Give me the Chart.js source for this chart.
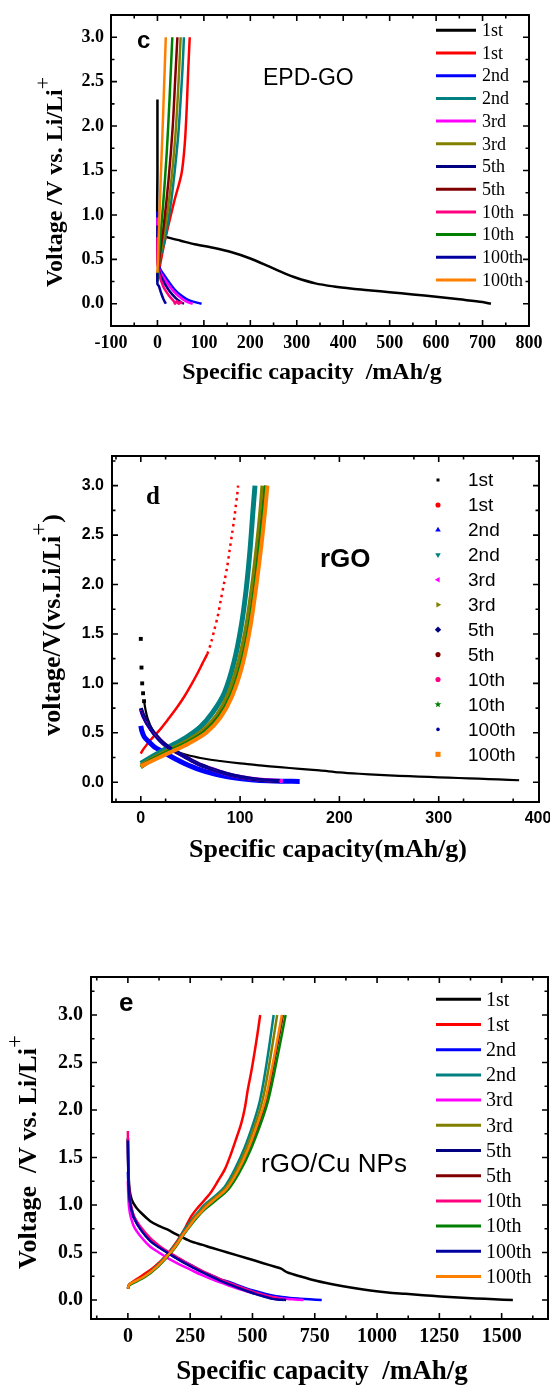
<!DOCTYPE html>
<html>
<head>
<meta charset="utf-8">
<script src="https://cdn.jsdelivr.net/npm/chart.js@4.4.0/dist/chart.umd.min.js"></script>
<style>
html, body { margin: 0; padding: 0; background: #fff; }
body { width: 550px; height: 1390px; position: relative; overflow: hidden; }
canvas { position: absolute; left: 0; }
</style>
</head>
<body>
<canvas id="chartC" width="550" height="420" style="top:0px;width:550px;height:420px"></canvas>
<canvas id="chartD" width="550" height="460" style="top:420px;width:550px;height:460px"></canvas>
<canvas id="chartE" width="550" height="510" style="top:880px;width:550px;height:510px"></canvas>
<script>
// legend labels, same for the three panels (discharge / charge pairs)
const cycleLabels = ['1st', '1st', '2nd', '2nd', '3rd', '3rd', '5th', '5th', '10th', '10th', '100th', '100th'];
const cycleColors = ['#000000', '#FF0000', '#0000FF', '#008080', '#FF00FF', '#808000', '#000080', '#800000', '#FF0080', '#008000', '#0000A0', '#FF8000'];

// ---- panel c : EPD-GO  [capacity mAh/g, voltage V]
const cDis1 = [[0,2.3],[0,1.5],[0,0.88],[5,0.79],[20,0.75],[50,0.71],[80,0.67],[120,0.63],[160,0.58],[200,0.51],[240,0.42],[270,0.35],[300,0.29],[340,0.23],[380,0.195],[420,0.17],[460,0.15],[500,0.13],[550,0.105],[600,0.08],[650,0.05],[700,0.02],[718,0.0]];
const cChg1 = [[0,0.28],[2,0.35],[5,0.42],[12,0.61],[23,0.87],[37,1.17],[52,1.47],[59,1.81],[63,2.2],[66,2.6],[69.5,3.0]];
const cDis2 = [[0,1.04],[0,0.7],[1,0.47],[5,0.4],[16,0.31],[37,0.16],[55,0.08],[70,0.035],[95,0.0]];
const cChg2 = [[0,0.3],[5,0.5],[16,0.72],[30,1.17],[44,1.85],[50,2.3],[54,2.65],[57,3.0]];
const cDis3 = [[0,0.97],[0,0.6],[1,0.44],[6,0.36],[16,0.27],[35,0.14],[52,0.06],[65,0.02],[76,0.0]];
const cChg3 = [[0,0.3],[5,0.52],[15,0.8],[27,1.25],[38,1.85],[44,2.35],[50,3.0]];
const cDis5 = [[0,0.88],[0,0.55],[2,0.4],[10,0.28],[25,0.15],[40,0.06],[50,0.02],[57,0.0]];
const cChg5 = [[0,0.3],[5,0.55],[14,0.9],[24,1.4],[33,2.0],[38,2.5],[43,3.0]];
const cDis10 = [[0,0.75],[0,0.5],[3,0.35],[12,0.2],[25,0.09],[35,0.03],[38,0.0],[42,0.03],[46,0.0],[50,0.02],[53,0.0]];
const cChg10 = [[0,0.25],[4,0.6],[12,1.1],[20,1.7],[26,2.3],[32,3.0]];
const cDis100 = [[0,0.35],[0,0.22],[3,0.2],[8,0.12],[13,0.05],[18,0.0]];
const cChg100 = [[0,0.35],[3,0.8],[7,1.4],[11,1.95],[14,2.4],[18,3.0]];
const cXTicks = [-100, 0, 100, 200, 300, 400, 500, 600, 700, 800];
const cYTicks = [0, 0.5, 1, 1.5, 2, 2.5, 3];

// ---- panel d : rGO
const dDis1 = [[0,1.45],[0.7,1.16],[1.4,1.0],[2.3,0.9],[3.3,0.82],[5,0.72],[7,0.64],[12,0.52],[17,0.44],[25,0.36],[35,0.31],[45,0.28],[60,0.245],[80,0.215],[100,0.19],[120,0.17],[140,0.152],[160,0.136],[180,0.12],[200,0.1],[220,0.086],[240,0.075],[260,0.065],[280,0.057],[300,0.05],[320,0.043],[340,0.036],[360,0.028],[381,0.02]];
const dChg1 = [[0,0.29],[3,0.34],[10,0.43],[20,0.54],[27,0.63],[36,0.75],[44,0.87],[51,0.99],[57,1.1],[62,1.2],[67,1.3],[71,1.42],[74,1.54],[77.5,1.68],[80.5,1.84],[84,2.02],[87,2.18],[89.5,2.35],[92,2.52],[94,2.66],[95.6,2.79],[97,2.9],[98,3.0]];
const dDis2 = [[0,0.57],[1,0.52],[3.4,0.46],[8,0.41],[13.4,0.36],[20,0.32],[27,0.28],[35,0.235],[44,0.19],[52,0.155],[60,0.125],[70,0.095],[80,0.07],[94,0.045],[111,0.026],[128,0.014],[145,0.01],[160,0.008]];
const dChg2 = [[0,0.19],[10,0.25],[27,0.35],[45,0.45],[60,0.56],[72,0.7],[84,0.9],[94,1.22],[101,1.57],[106,1.94],[110,2.35],[113,2.75],[115,3.0]];
const dDis3 = [[0,0.74],[2,0.68],[5,0.62],[9,0.55],[13,0.5],[20,0.42],[27,0.36],[35,0.31],[44,0.26],[52,0.215],[60,0.175],[70,0.14],[80,0.105],[94,0.065],[111,0.035],[127,0.02],[143,0.012]];
const dChg3 = [[0,0.17],[10,0.23],[27,0.32],[45,0.41],[62,0.52],[76,0.67],[88,0.89],[98,1.2],[106,1.57],[112,1.98],[117,2.4],[120.5,2.75],[122.5,3.0]];
const dDis5 = [[0,0.75],[2,0.69],[5,0.63],[9,0.56],[13,0.5],[20,0.42],[27,0.36],[35,0.31],[44,0.26],[52,0.215],[60,0.175],[70,0.138],[80,0.105],[94,0.065],[111,0.035],[127,0.018],[140,0.012]];
const dChg5 = [[0,0.17],[10,0.23],[28,0.32],[47,0.41],[64,0.52],[78,0.67],[90,0.88],[100,1.18],[108,1.55],[114,1.96],[119,2.4],[123,2.78],[125,3.0]];
const dDis10 = [[0,0.73],[2,0.67],[5,0.61],[9,0.54],[13,0.49],[20,0.41],[27,0.355],[35,0.305],[44,0.255],[52,0.21],[60,0.17],[70,0.133],[80,0.1],[94,0.06],[111,0.032],[127,0.016],[141,0.01]];
const dChg10 = [[0,0.15],[10,0.22],[28,0.31],[47,0.4],[65,0.51],[79,0.66],[91,0.88],[101,1.18],[109,1.55],[115,1.96],[120,2.4],[124,2.78],[126,3.0]];
const dDis100 = [[0,0.72],[2,0.66],[5,0.6],[9,0.54],[13,0.48],[20,0.41],[27,0.355],[35,0.305],[44,0.255],[52,0.21],[60,0.17],[70,0.133],[80,0.1],[94,0.062],[111,0.034],[127,0.018],[139,0.012]];
const dChg100 = [[0,0.16],[10,0.21],[29,0.3],[48,0.39],[66,0.5],[80,0.65],[92,0.87],[102,1.17],[110,1.55],[116,1.96],[121.5,2.4],[125.5,2.78],[127.5,3.0]];
const dXTicks = [0, 100, 200, 300, 400];
const dYTicks = [0, 0.5, 1, 1.5, 2, 2.5, 3];

// ---- panel e : rGO/Cu NPs
const eDis1 = [[0,1.7],[2,1.4],[6,1.18],[15,1.06],[32,0.98],[60,0.9],[90,0.83],[124,0.78],[160,0.74],[195,0.69],[250,0.62],[300,0.58],[336,0.55],[400,0.5],[478,0.44],[540,0.39],[591,0.35],[615,0.33],[640,0.29],[690,0.25],[760,0.2],[831,0.16],[900,0.128],[973,0.1],[1043,0.08],[1114,0.065],[1185,0.05],[1255,0.038],[1326,0.027],[1397,0.017],[1470,0.008],[1545,0.0]];
const eChg1 = [[0,0.12],[5,0.16],[13,0.18],[53,0.25],[107,0.35],[160,0.49],[200,0.63],[230,0.76],[254,0.88],[280,0.97],[307,1.05],[335,1.14],[361,1.25],[390,1.38],[414,1.54],[435,1.7],[455,1.86],[470,2.03],[481,2.21],[495,2.4],[508,2.6],[520,2.8],[531,3.0]];
const eDis2 = [[0,1.35],[2,1.2],[5,1.08],[11,0.98],[25,0.86],[54,0.74],[90,0.63],[124,0.56],[160,0.5],[195,0.45],[230,0.4],[266,0.35],[300,0.3],[336,0.26],[370,0.22],[407,0.19],[440,0.155],[478,0.12],[510,0.095],[549,0.067],[585,0.045],[619,0.032],[650,0.022],[690,0.014],[730,0.007],[778,0.0]];
const eChg2 = [[0,0.12],[5,0.16],[15,0.18],[67,0.25],[120,0.37],[174,0.53],[200,0.62],[227,0.74],[250,0.82],[267,0.88],[287,0.94],[307,1.0],[348,1.09],[388,1.19],[428,1.37],[468,1.6],[506,1.88],[530,2.1],[548,2.35],[566,2.65],[585,3.0]];
const eDis3 = [[0,1.25],[2,1.08],[5,0.97],[11,0.88],[25,0.77],[54,0.66],[90,0.56],[124,0.5],[160,0.44],[195,0.39],[230,0.345],[266,0.3],[300,0.26],[336,0.22],[370,0.185],[407,0.15],[440,0.12],[478,0.09],[510,0.07],[549,0.045],[585,0.03],[620,0.015],[660,0.007],[705,0.0]];
const eChg3 = [[0,0.12],[5,0.16],[15,0.18],[67,0.25],[120,0.36],[174,0.52],[200,0.61],[227,0.72],[250,0.8],[267,0.87],[290,0.93],[310,0.99],[350,1.08],[392,1.18],[434,1.36],[476,1.6],[515,1.88],[540,2.1],[559,2.35],[578,2.65],[599,3.0]];
const eDis5 = [[0,1.7],[1,1.45],[3,1.25],[6,1.1],[11,1.0],[25,0.87],[54,0.74],[90,0.63],[124,0.56],[160,0.5],[195,0.44],[230,0.39],[266,0.34],[300,0.295],[336,0.25],[370,0.21],[407,0.17],[440,0.135],[478,0.1],[510,0.07],[549,0.04],[580,0.015],[600,0.01],[635,0.0]];
const eChg5 = [[0,0.12],[5,0.16],[15,0.18],[67,0.25],[120,0.36],[174,0.51],[200,0.6],[227,0.71],[250,0.79],[270,0.86],[292,0.92],[313,0.98],[354,1.07],[398,1.17],[442,1.35],[486,1.59],[528,1.88],[555,2.1],[576,2.36],[598,2.66],[622,3.0]];
const eDis10 = [[0,1.78],[1,1.5],[3,1.28],[6,1.12],[11,1.02],[25,0.88],[54,0.76],[90,0.65],[124,0.575],[160,0.51],[195,0.455],[230,0.4],[266,0.35],[300,0.305],[336,0.26],[370,0.22],[407,0.18],[440,0.145],[478,0.11],[510,0.08],[549,0.05],[580,0.03],[600,0.02],[625,0.0]];
const eChg10 = [[0,0.12],[5,0.15],[15,0.17],[67,0.24],[120,0.35],[174,0.5],[200,0.59],[227,0.7],[250,0.78],[272,0.85],[295,0.92],[316,0.97],[358,1.06],[402,1.16],[447,1.34],[492,1.58],[535,1.87],[563,2.1],[585,2.36],[608,2.66],[633,3.0]];
const eDis100 = [[0,1.68],[1,1.42],[3,1.23],[6,1.09],[11,0.99],[25,0.86],[54,0.73],[90,0.62],[124,0.555],[160,0.495],[195,0.44],[230,0.385],[266,0.335],[300,0.29],[336,0.245],[370,0.205],[407,0.165],[440,0.13],[478,0.095],[510,0.065],[549,0.035],[580,0.012],[600,0.005],[625,0.0]];
const eChg100 = [[0,0.12],[5,0.16],[15,0.18],[67,0.25],[120,0.36],[174,0.51],[200,0.6],[227,0.71],[250,0.79],[270,0.86],[292,0.92],[313,0.98],[353,1.07],[396,1.17],[440,1.35],[483,1.59],[524,1.88],[551,2.1],[572,2.36],[594,2.66],[618,3.0]];
const eXTicks = [0, 250, 500, 750, 1000, 1250, 1500];
const eYTicks = [0, 0.5, 1, 1.5, 2, 2.5, 3];

const cSeries = [cDis1, cChg1, cDis2, cChg2, cDis3, cChg3, cDis5, cChg5, cDis10, cChg10, cDis100, cChg100];
const dSeries = [dDis1, dChg1, dDis2, dChg2, dDis3, dChg3, dDis5, dChg5, dDis10, dChg10, dDis100, dChg100];
const eSeries = [eDis1, eChg1, eDis2, eChg2, eDis3, eChg3, eDis5, eChg5, eDis10, eChg10, eDis100, eChg100];

// marker shapes of the rGO legend (scatter symbols in the original)
const dMarkers = ['sq', 'circ', 'up', 'down', 'left', 'right', 'diamond', 'circ', 'circ', 'star', 'dot', 'square'];

const SERIF = '"Liberation Serif", "Times New Roman", serif';
const SANS = '"Liberation Sans", Arial, sans-serif';

function drawMarker(ctx, shape, x, y, r) {
    ctx.beginPath();
    if (shape === 'sq') { ctx.rect(x - 1.5, y - 1.5, 3, 3); }
    else if (shape === 'dot') { ctx.arc(x, y, 1.8, 0, Math.PI * 2); }
    else if (shape === 'circ') { ctx.arc(x, y, r * 0.8, 0, Math.PI * 2); }
    else if (shape === 'square') { ctx.rect(x - r * 0.8, y - r * 0.8, r * 1.6, r * 1.6); }
    else if (shape === 'diamond') { ctx.moveTo(x, y - r); ctx.lineTo(x + r, y); ctx.lineTo(x, y + r); ctx.lineTo(x - r, y); ctx.closePath(); }
    else if (shape === 'star') {
        for (let k = 0; k < 10; k++) {
            const rr = k % 2 ? r * 0.45 : r * 1.1;
            const a = -Math.PI / 2 + k * Math.PI / 5;
            if (k === 0) ctx.moveTo(x + rr * Math.cos(a), y + rr * Math.sin(a));
            else ctx.lineTo(x + rr * Math.cos(a), y + rr * Math.sin(a));
        }
        ctx.closePath();
    } else {
        const rot = { up: 0, right: Math.PI / 2, down: Math.PI, left: -Math.PI / 2 }[shape];
        for (let k = 0; k < 3; k++) {
            const a = rot - Math.PI / 2 + k * 2 * Math.PI / 3;
            if (k === 0) ctx.moveTo(x + r * Math.cos(a), y + r * Math.sin(a));
            else ctx.lineTo(x + r * Math.cos(a), y + r * Math.sin(a));
        }
        ctx.closePath();
    }
    ctx.fill();
}

const decorById = {};

const decorPlugin = {
    id: 'decor',
    afterDraw(chart) {
        const o = decorById[chart.canvas.id];
        const ctx = chart.ctx;
        const a = chart.chartArea;
        const xs = chart.scales.x, ys = chart.scales.y;
        ctx.save();
        // frame + inward ticks on all four sides
        ctx.strokeStyle = '#000';
        ctx.lineWidth = 2;
        ctx.strokeRect(a.left, a.top, a.right - a.left, a.bottom - a.top);
        ctx.lineWidth = 1.6;
        const tickX = (vals, len) => vals.forEach(v => {
            const px = xs.getPixelForValue(v);
            if (px <= a.left + 1 || px >= a.right - 1) return;
            ctx.beginPath();
            ctx.moveTo(px, a.bottom); ctx.lineTo(px, a.bottom - len);
            ctx.moveTo(px, a.top); ctx.lineTo(px, a.top + len);
            ctx.stroke();
        });
        const tickY = (vals, len) => vals.forEach(v => {
            const py = ys.getPixelForValue(v);
            if (py <= a.top + 1 || py >= a.bottom - 1) return;
            ctx.beginPath();
            ctx.moveTo(a.left, py); ctx.lineTo(a.left + len, py);
            ctx.moveTo(a.right, py); ctx.lineTo(a.right - len, py);
            ctx.stroke();
        });
        tickX(o.xMajor, 6); tickX(o.xMinor, 3.5);
        tickY(o.yMajor, 6); tickY(o.yMinor, 3.5);

        ctx.fillStyle = '#000';
        ctx.textAlign = 'left';
        ctx.textBaseline = 'alphabetic';
        o.texts.forEach(t => { ctx.font = t.font; ctx.fillText(t.t, t.x, t.y); });

        // x title
        ctx.font = o.xTitle.font;
        ctx.textAlign = 'center';
        ctx.textBaseline = 'middle';
        ctx.fillText(o.xTitle.t, o.xTitle.x, o.xTitle.y);

        // y title with superscript
        const yt = o.yTitle;
        ctx.save();
        ctx.translate(yt.x, yt.y);
        ctx.rotate(-Math.PI / 2);
        ctx.textAlign = 'left';
        ctx.textBaseline = 'middle';
        const mainFont = 'bold ' + yt.size + 'px ' + SERIF;
        const supFont = Math.round(yt.size * 0.9) + 'px ' + SERIF;
        ctx.font = mainFont; const w1 = ctx.measureText(yt.main).width;
        const w3 = yt.tail ? ctx.measureText(yt.tail).width : 0;
        ctx.font = supFont; const w2 = ctx.measureText(yt.sup).width;
        let x = -(w1 + w2 + w3) / 2;
        ctx.font = mainFont; ctx.fillText(yt.main, x, 0); x += w1;
        ctx.font = supFont; ctx.fillText(yt.sup, x, -yt.size * 0.5); x += w2;
        if (yt.tail) { ctx.font = mainFont; ctx.fillText(yt.tail, x, 0); }
        ctx.restore();

        // legend inside the plot
        const lg = o.legend;
        ctx.font = lg.font;
        ctx.textAlign = 'left';
        ctx.textBaseline = 'middle';
        chart.data.datasets.forEach((ds, i) => {
            const y = lg.y0 + lg.dy * i;
            ctx.fillStyle = ds.borderColor;
            ctx.strokeStyle = ds.borderColor;
            if (lg.markers) {
                drawMarker(ctx, lg.markers[i], lg.mx, y, 3.2);
            } else {
                ctx.lineWidth = 3;
                ctx.beginPath();
                ctx.moveTo(lg.x0, y); ctx.lineTo(lg.x1, y);
                ctx.stroke();
            }
            ctx.fillStyle = '#000';
            ctx.fillText(ds.label, lg.tx, y + 1);
        });
        ctx.restore();
    }
};

function makeChart(id, cfg) {
    decorById[id] = cfg.decor;
    const datasets = cfg.series.map((pts, i) => Object.assign({
        label: cycleLabels[i],
        data: pts.map(p => ({ x: p[0], y: p[1] })),
        showLine: true,
        borderColor: cycleColors[i],
        backgroundColor: cycleColors[i],
        borderWidth: cfg.widths[i],
        pointRadius: 0,
        tension: 0.3,
        order: cfg.series.length - i
    }, cfg.extra[i] || {}));
    return new Chart(document.getElementById(id).getContext('2d'), {
        type: 'scatter',
        data: { datasets: datasets },
        options: {
            responsive: false,
            animation: false,
            devicePixelRatio: 1,
            layout: { padding: { top: cfg.padTop, right: cfg.padRight, left: 0, bottom: 0 } },
            plugins: { legend: { display: false }, tooltip: { enabled: false } },
            scales: {
                x: {
                    type: 'linear', min: cfg.xMin, max: cfg.xMax,
                    grid: { display: false, drawTicks: false },
                    border: { display: false },
                    afterBuildTicks: s => { s.ticks = cfg.xTicks.map(v => ({ value: v })); },
                    afterFit: s => { s.height = cfg.xAxisH; s.paddingLeft = 0; s.paddingRight = 0; },
                    ticks: { autoSkip: false, maxRotation: 0, padding: cfg.xPad, color: '#000', font: cfg.tickFont, callback: v => String(v) }
                },
                y: {
                    type: 'linear', min: cfg.yMin, max: cfg.yMax,
                    grid: { display: false, drawTicks: false },
                    border: { display: false },
                    afterBuildTicks: s => { s.ticks = cfg.yTicks.map(v => ({ value: v })); },
                    afterFit: s => { s.width = cfg.yAxisW; s.paddingTop = 0; s.paddingBottom = 0; },
                    ticks: { autoSkip: false, padding: cfg.yPad, color: '#000', font: cfg.tickFont, callback: v => v.toFixed(1) }
                }
            }
        },
        plugins: [decorPlugin]
    });
}

const range = (a, b, s) => { const r = []; for (let v = a; v <= b + 1e-9; v += s) r.push(+v.toFixed(4)); return r; };

// panel c
makeChart('chartC', {
    series: cSeries,
    widths: [2.5, 2.5, 2.5, 2.5, 2.5, 2.5, 2.5, 2.5, 2.5, 2.5, 2.5, 2.5],
    extra: [],
    xMin: -100, xMax: 800, yMin: -0.25, yMax: 3.25,
    xTicks: cXTicks, yTicks: cYTicks,
    padTop: 15, padRight: 21, yAxisW: 111, xAxisH: 94,
    xPad: 7, yPad: 7,
    tickFont: { family: SERIF, size: 18, weight: 'bold' },
    decor: {
        xMajor: cXTicks, xMinor: range(-50, 750, 100), yMajor: cYTicks, yMinor: range(-0.25, 3.25, 0.5),
        texts: [
            { t: 'c', x: 137, y: 48, font: 'bold 24px ' + SANS },
            { t: 'EPD-GO', x: 263, y: 85, font: '23px ' + SANS }
        ],
        xTitle: { t: 'Specific capacity  /mAh/g', x: 312, y: 373, font: 'bold 24px ' + SERIF },
        yTitle: { main: 'Voltage /V vs. Li/Li', sup: '+', tail: '', x: 56, y: 182, size: 24 },
        legend: { x0: 436, x1: 476, tx: 482, y0: 30.3, dy: 22.7, font: '18px ' + SERIF }
    }
});

// panel d : the first discharge starts with a few isolated dots, the first charge thins out to dots
makeChart('chartD', {
    series: dSeries,
    widths: [2.2, 2.5, 5, 5, 4, 4, 4, 1.5, 1.5, 4, 2, 4],
    extra: [
        {
            pointRadius: dDis1.map((p, k) => (k < 5 ? 1.2 : 0)),
            pointStyle: 'rect',
            segment: { borderColor: c => (c.p0DataIndex < 4 ? 'rgba(0,0,0,0)' : undefined) }
        },
        { segment: { borderDash: c => (c.p1.parsed.y > 1.3 ? [2.5, 4] : undefined) } }
    ],
    xMin: -29, xMax: 401, yMin: -0.2, yMax: 3.3,
    xTicks: dXTicks, yTicks: dYTicks,
    padTop: 36, padRight: 11, yAxisW: 112, xAxisH: 78,
    xPad: 7, yPad: 8,
    tickFont: { family: SANS, size: 16, weight: 'bold' },
    decor: {
        xMajor: dXTicks, xMinor: range(-25, 375, 50), yMajor: dYTicks, yMinor: range(-0.25, 3.25, 0.5),
        texts: [
            { t: 'd', x: 146, y: 84, font: 'bold 25px ' + SERIF },
            { t: 'rGO', x: 320, y: 147, font: 'bold 26px ' + SANS }
        ],
        xTitle: { t: 'Specific capacity(mAh/g)', x: 328, y: 430, font: 'bold 26px ' + SERIF },
        yTitle: { main: 'voltage/V(vs.Li/Li', sup: '+', tail: ')', x: 53, y: 205, size: 26 },
        legend: { markers: dMarkers, mx: 438, tx: 468, y0: 60, dy: 24.94, font: '19px ' + SANS }
    }
});

// panel e
makeChart('chartE', {
    series: eSeries,
    widths: [2.5, 2.5, 2.5, 2.5, 2.5, 2.5, 2.5, 2.5, 2.5, 2.5, 2.5, 2.5],
    extra: [],
    xMin: -148, xMax: 1686, yMin: -0.2, yMax: 3.4,
    xTicks: eXTicks, yTicks: eYTicks,
    padTop: 97, padRight: 2, yAxisW: 91, xAxisH: 71,
    xPad: 6, yPad: 8,
    tickFont: { family: SERIF, size: 20, weight: 'bold' },
    decor: {
        xMajor: eXTicks, xMinor: range(-125, 1625, 250), yMajor: eYTicks, yMinor: range(-0.25, 3.25, 0.5),
        texts: [
            { t: 'e', x: 119, y: 131, font: 'bold 26px ' + SANS },
            { t: 'rGO/Cu NPs', x: 261, y: 292, font: '26px ' + SANS }
        ],
        xTitle: { t: 'Specific capacity  /mAh/g', x: 322, y: 492, font: 'bold 27px ' + SERIF },
        yTitle: { main: 'Voltage  /V vs. Li/Li', sup: '+', tail: '', x: 29, y: 272, size: 26 },
        legend: { x0: 436, x1: 481, tx: 486, y0: 119.3, dy: 25.2, font: '20px ' + SERIF }
    }
});
</script>
</body>
</html>
